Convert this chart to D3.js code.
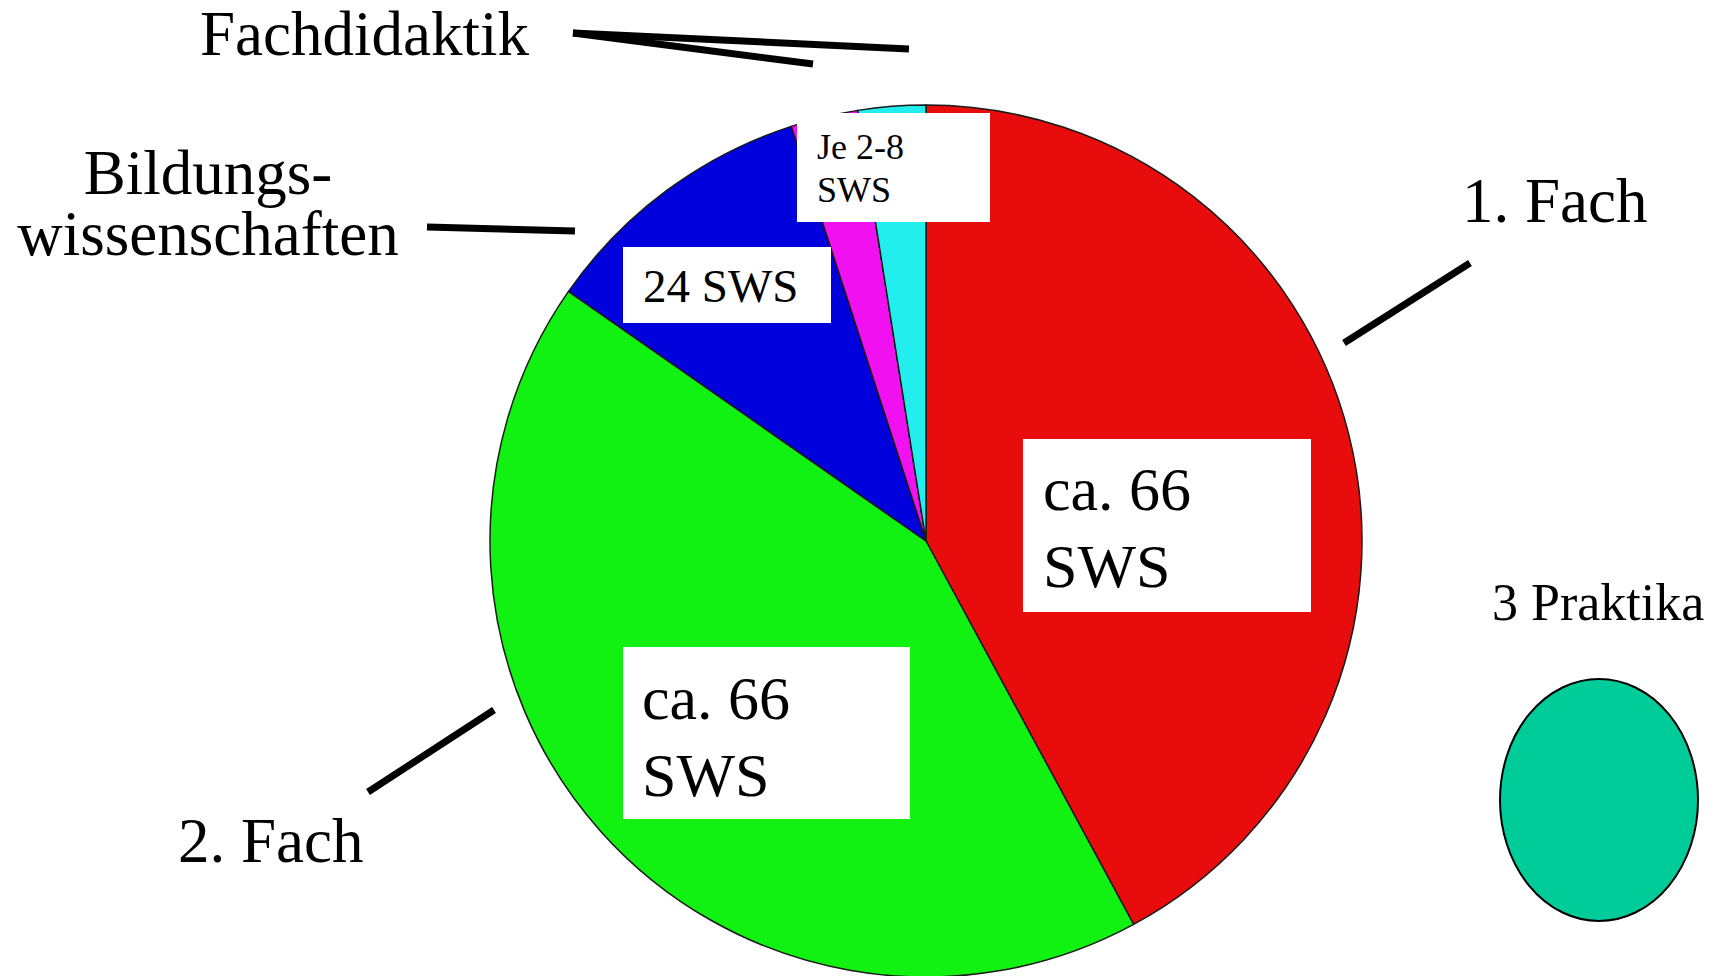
<!DOCTYPE html>
<html>
<head>
<meta charset="utf-8">
<script src="https://cdn.jsdelivr.net/npm/d3@7"></script>
<style>
  html, body { margin: 0; padding: 0; background: #fff; }
  svg { display: block; }
  text { font-family: "Liberation Serif", "Times New Roman", serif; fill: #000; }
</style>
</head>
<body>
<div id="vis"></div>
<script>
// Constants for the frame
const FRAME_WIDTH = 1718;
const FRAME_HEIGHT = 976;

// pie geometry
const PIE = {cx: 926, cy: 541, r: 436};

// data: share of the circle per slice (percent)
const CATEGORIES = ["1. Fach", "2. Fach", "Bildungswissenschaften", "Fachdidaktik A", "Fachdidaktik B"];
const SHARES = [42.1, 42.6, 10.3, 2.5, 2.5];
const COLORS = ["#e80c0c", "#12f212", "#0000dd", "#f010f0", "#22eeee"];

// texts in the white boxes
const BOX_TEXTS = [["ca. 66", "SWS"], ["ca. 66", "SWS"], ["24 SWS"], ["Je 2-8", "SWS"]];

// outside labels
const LABELS = [["1. Fach"], ["2. Fach"], ["Bildungs-", "wissenschaften"], ["Fachdidaktik"], ["3 Praktika"]];

// layout of the boxes (x, y, w, h, font size, line gap)
const BOX_LAYOUT = [
    {x: 1023, y: 439, w: 288, h: 173, fs: 62, tx: 1043, ty: 510, gap: 77},
    {x: 623, y: 647, w: 287, h: 172, fs: 62, tx: 642, ty: 719, gap: 77},
    {x: 623, y: 247, w: 208, h: 76, fs: 47, tx: 643, ty: 302, gap: 0},
    {x: 797, y: 113, w: 193, h: 109, fs: 36, tx: 817, ty: 159, gap: 43}
];

// layout of the outside labels
const LABEL_LAYOUT = [
    {x: 1462, y: 222, fs: 63, anchor: "start", gap: 0},
    {x: 178, y: 862, fs: 63, anchor: "start", gap: 0},
    {x: 208, y: 194, fs: 63, anchor: "middle", gap: 61},
    {x: 200, y: 55, fs: 63, anchor: "start", gap: 0},
    {x: 1492, y: 620, fs: 52, anchor: "start", gap: 0}
];

// leader lines
const LEADERS = [
    [[1470, 263], [1344, 343]],
    [[494, 710], [368, 792]],
    [[427, 227], [575, 231]],
    [[573, 33], [909, 49]],
    [[573, 33], [813, 64]]
];

// the "3 Praktika" oval
const PRAKTIKA = {cx: 1599, cy: 800, rx: 99, ry: 121, color: "#00cc99"};

const FRAME = d3.select("#vis")
    .append("svg")
    .attr("width", FRAME_WIDTH)
    .attr("height", FRAME_HEIGHT);

// pie slices, clockwise from 12 o'clock
const pie = d3.pie().sort(null).value((d) => d)(SHARES);
const arc = d3.arc().innerRadius(0).outerRadius(PIE.r);

const G = FRAME.append("g")
    .attr("transform", "translate(" + PIE.cx + "," + PIE.cy + ")");

G.selectAll("path")
    .data(pie)
    .enter()
    .append("path")
    .attr("d", arc)
    .attr("fill", (d, i) => COLORS[i])
    .attr("stroke", "#1a1a1a")
    .attr("stroke-width", 1.5)
    .attr("stroke-linejoin", "round");

// white label boxes
BOX_TEXTS.forEach((lines, i) => {
    const b = BOX_LAYOUT[i];
    FRAME.append("rect")
        .attr("x", b.x).attr("y", b.y)
        .attr("width", b.w).attr("height", b.h)
        .attr("fill", "#fff");
    lines.forEach((t, j) => {
        FRAME.append("text")
            .attr("x", b.tx)
            .attr("y", b.ty + j * b.gap)
            .attr("font-size", b.fs + "px")
            .text(t);
    });
});

// leader lines
FRAME.selectAll("line.leader")
    .data(LEADERS)
    .enter()
    .append("line")
    .attr("class", "leader")
    .attr("x1", (d) => d[0][0]).attr("y1", (d) => d[0][1])
    .attr("x2", (d) => d[1][0]).attr("y2", (d) => d[1][1])
    .attr("stroke", "#000")
    .attr("stroke-width", 7);

// outside labels
LABELS.forEach((lines, i) => {
    const l = LABEL_LAYOUT[i];
    lines.forEach((t, j) => {
        FRAME.append("text")
            .attr("x", l.x)
            .attr("y", l.y + j * l.gap)
            .attr("text-anchor", l.anchor)
            .attr("font-size", l.fs + "px")
            .text(t);
    });
});

// the oval for the internships
FRAME.append("ellipse")
    .attr("cx", PRAKTIKA.cx).attr("cy", PRAKTIKA.cy)
    .attr("rx", PRAKTIKA.rx).attr("ry", PRAKTIKA.ry)
    .attr("fill", PRAKTIKA.color)
    .attr("stroke", "#000")
    .attr("stroke-width", 2);
</script>
</body>
</html>
